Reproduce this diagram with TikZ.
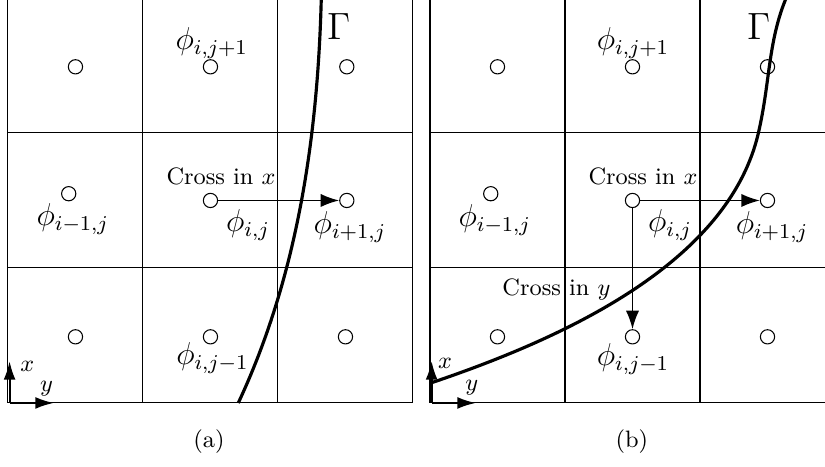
\documentclass[tikz,border=0pt]{standalone}
\usepackage{tikz}
\usetikzlibrary{positioning,arrows.meta}

\begin{document}
\begin{tikzpicture}[x=1.8cm,y=1.8cm,
            cell/.style={circle,draw,thin,inner sep=0pt,minimum size=1.9mm},
            phi/.style={font=\large,inner sep=1pt},
            note/.style={font=\small,inner sep=1pt},
            gam/.style={font=\Large,inner sep=1pt},
            iface/.style={very thick},
            flux/.style={semithick,-{Latex[length=7pt,width=5pt]}},
            axis/.style={thick,-{Latex[length=7pt,width=4.5pt]}}]
        \clip (-0.059,-0.467) rectangle (6.052,2.985);

        % (a) interface crosses only in x
        \begin{scope}
          \draw[thin,step=1.8cm] (0,0) grid (3,3);
          \draw[iface] (1.706,0) .. controls (2.15,0.95) and (2.3,2.0) .. (2.322,3.05);
          \node[cell] (a00) at (0.5,0.49) {};
          \node[cell] (a10) at (1.5,0.49) {};
          \node[cell] (a20) at (2.5,0.49) {};
          \node[cell] (a01) at (0.45,1.55) {};
          \node[cell] (a11) at (1.5,1.5) {};
          \node[cell] (a21) at (2.51,1.5) {};
          \node[cell] (a02) at (0.5,2.49) {};
          \node[cell] (a12) at (1.5,2.49) {};
          \node[cell] (a22) at (2.51,2.49) {};
          \node[phi] (a12-lbl) at (1.51,2.667) {$\phi_{i,j+1}$};
          \node[phi] (a01-lbl) at (0.48,1.36) {$\phi_{i-1,j}$};
          \node[phi] (a11-lbl) at (1.778,1.319) {$\phi_{i,j}$};
          \node[phi] (a21-lbl) at (2.533,1.304) {$\phi_{i+1,j}$};
          \node[phi] (a10-lbl) at (1.515,0.335) {$\phi_{i,j-1}$};
          \node[gam] (a-gam) at (2.45,2.79) {$\Gamma$};
          \node[note] (a-cross) at (1.578,1.681) {Cross in $x$};
          \draw[flux] (a11) -- (a21);
          % axes
          \coordinate (a-o) at (0.012,0);
          \coordinate (a-ox) at (0.012,0.31);
          \coordinate (a-oy) at (0.34,0);
          \draw[axis] (a-o) -- (a-ox);
          \draw[axis] (a-o) -- (a-oy);
          \node[note] (a-xl) at (0.143,0.274) {$x$};
          \node[note] (a-yl) at (0.286,0.105) {$y$};
          \node[note] (a-cap) at (1.489,-0.289) {(a)};
        \end{scope}

        % (b) interface crosses in x and in y
        \begin{scope}[xshift=5.627cm]
          \draw[thin,step=1.8cm] (0,0) grid (3,3);
          \draw[iface] (0,0.146) .. controls (0.9,0.45) and (2.2,1.0) .. (2.432,1.998)
                       .. controls (2.525,2.398) and (2.5,2.7) .. (2.66,3.05);
          \node[cell] (b00) at (0.5,0.49) {};
          \node[cell] (b10) at (1.5,0.49) {};
          \node[cell] (b20) at (2.5,0.49) {};
          \node[cell] (b01) at (0.45,1.55) {};
          \node[cell] (b11) at (1.5,1.5) {};
          \node[cell] (b21) at (2.5,1.5) {};
          \node[cell] (b02) at (0.5,2.49) {};
          \node[cell] (b12) at (1.5,2.49) {};
          \node[cell] (b22) at (2.5,2.49) {};
          \node[phi] (b12-lbl) at (1.504,2.667) {$\phi_{i,j+1}$};
          \node[phi] (b01-lbl) at (0.48,1.356) {$\phi_{i-1,j}$};
          \node[phi] (b11-lbl) at (1.778,1.319) {$\phi_{i,j}$};
          \node[phi] (b21-lbl) at (2.533,1.304) {$\phi_{i+1,j}$};
          \node[phi] (b10-lbl) at (1.504,0.326) {$\phi_{i,j-1}$};
          \node[gam] (b-gam) at (2.435,2.787) {$\Gamma$};
          \node[note] (b-crossx) at (1.578,1.681) {Cross in $x$};
          \node[note] (b-crossy) at (0.937,0.84) {Cross in $y$};
          \draw[flux] (b11) -- (b21);
          \draw[flux] (b11) -- (b10);
          % axes
          \coordinate (b-o) at (0.012,0);
          \coordinate (b-ox) at (0.012,0.31);
          \coordinate (b-oy) at (0.34,0);
          \draw[axis] (b-o) -- (b-ox);
          \draw[axis] (b-o) -- (b-oy);
          \node[note] (b-xl) at (0.111,0.29) {$x$};
          \node[note] (b-yl) at (0.309,0.115) {$y$};
          \node[note] (b-cap) at (1.496,-0.289) {(b)};
        \end{scope}
        \end{tikzpicture}
\end{document}
